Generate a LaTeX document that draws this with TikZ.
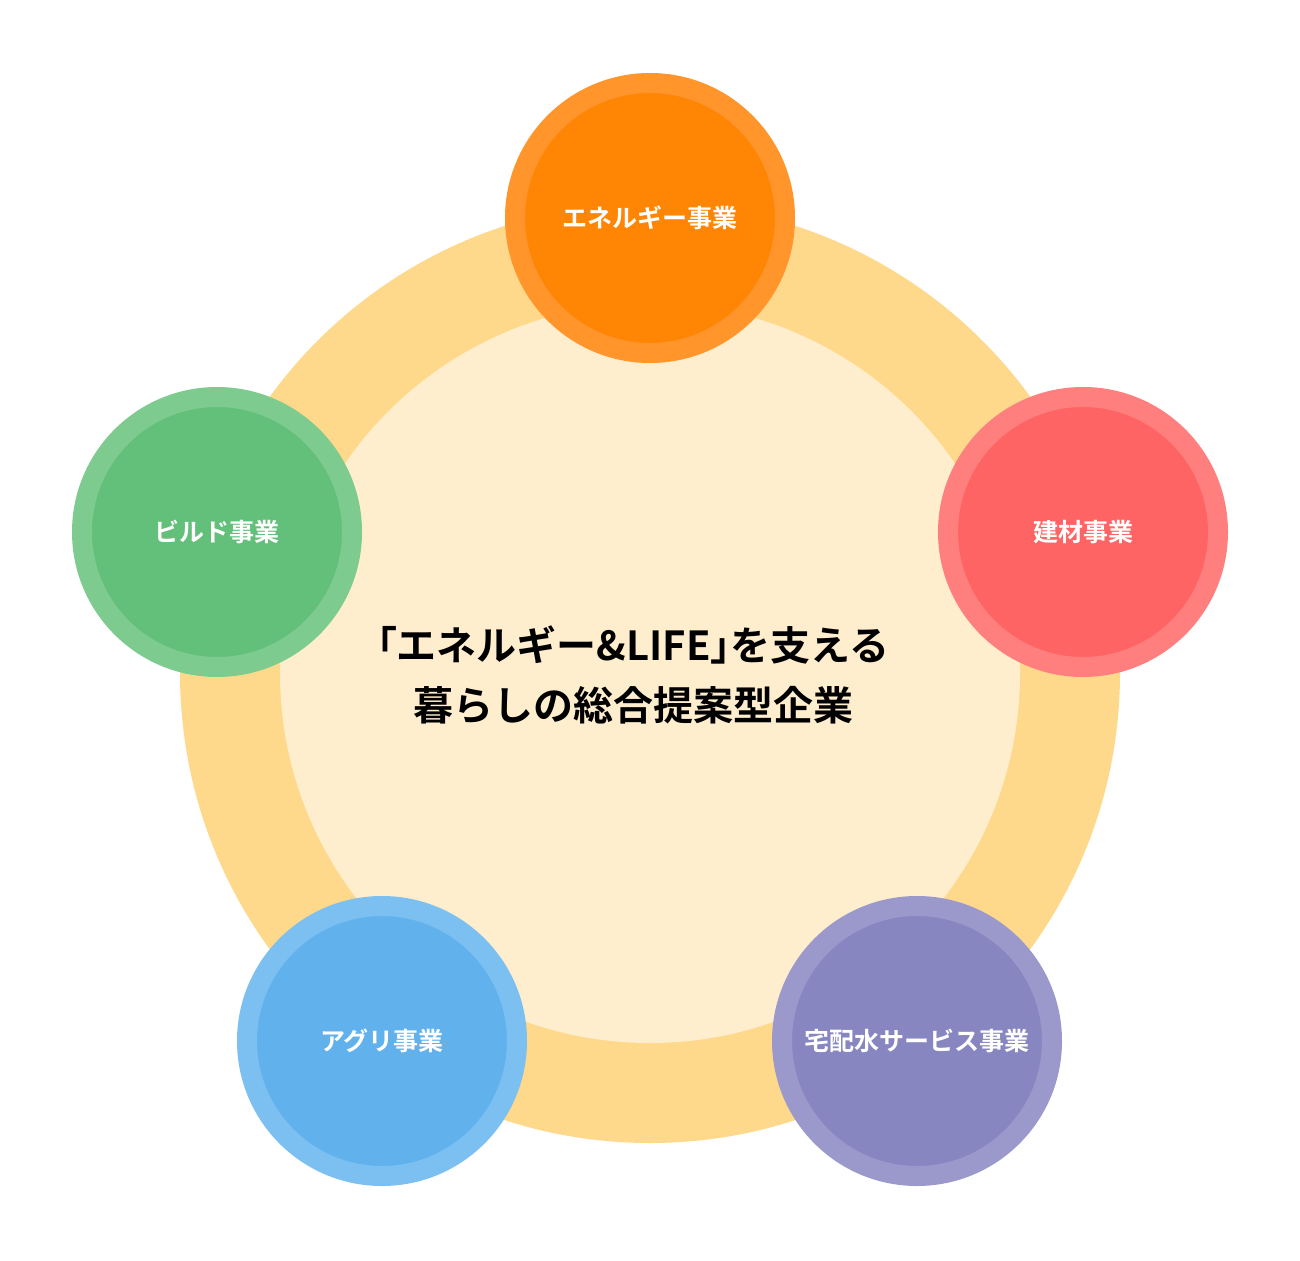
\documentclass[tikz,border=0pt]{standalone}
\usepackage{fontspec}
\newfontfamily\jpb{Noto Sans CJK JP Bold}
\newfontfamily\jpbp[RawFeature=+palt]{Noto Sans CJK JP Bold}
\definecolor{ringc}{HTML}{FFD98B}
\definecolor{diskc}{HTML}{FFEECD}
\definecolor{orO}{HTML}{FF952B}\definecolor{orI}{HTML}{FF8505}
\definecolor{reO}{HTML}{FF7F7F}\definecolor{reI}{HTML}{FF6464}
\definecolor{puO}{HTML}{9B99CC}\definecolor{puI}{HTML}{8786C0}
\definecolor{blO}{HTML}{7CC0F2}\definecolor{blI}{HTML}{61B2EC}
\definecolor{grO}{HTML}{7ECB8F}\definecolor{grI}{HTML}{63C07A}
\tikzset{
  biz/.style n args={2}{circle, minimum size=270pt, inner sep=0pt, fill=#1, draw=#2, line width=20pt, text=white, font=\jpb\fontsize{25pt}{30pt}\selectfont},
}
\begin{document}
\begin{tikzpicture}[x=1pt,y=-1pt]
\useasboundingbox (0,0) rectangle (1300,1260);
\fill[white] (0,0) rectangle (1300,1260);
\fill[ringc] (650,673) circle[radius=470];
\fill[diskc] (650,673) circle[radius=370];
\node[font=\jpb\fontsize{40pt}{60pt}\selectfont, align=center, text=black] (title) at (633,675) {{\jpbp 「}エネルギー{\jpbp \&}LIFE{\jpbp 」}を支える\\暮らしの総合提案型企業};
\node[biz={orI}{orO}] (energy) at (650,218) {エネルギー事業};
\node[biz={reI}{reO}] (kenzai) at (1083,532) {建材事業};
\node[biz={puI}{puO}] (water) at (917,1041) {宅配水サービス事業};
\node[biz={blI}{blO}] (agri) at (382,1041) {アグリ事業};
\node[biz={grI}{grO}] (build) at (217,532) {ビルド事業};
\end{tikzpicture}
\end{document}
